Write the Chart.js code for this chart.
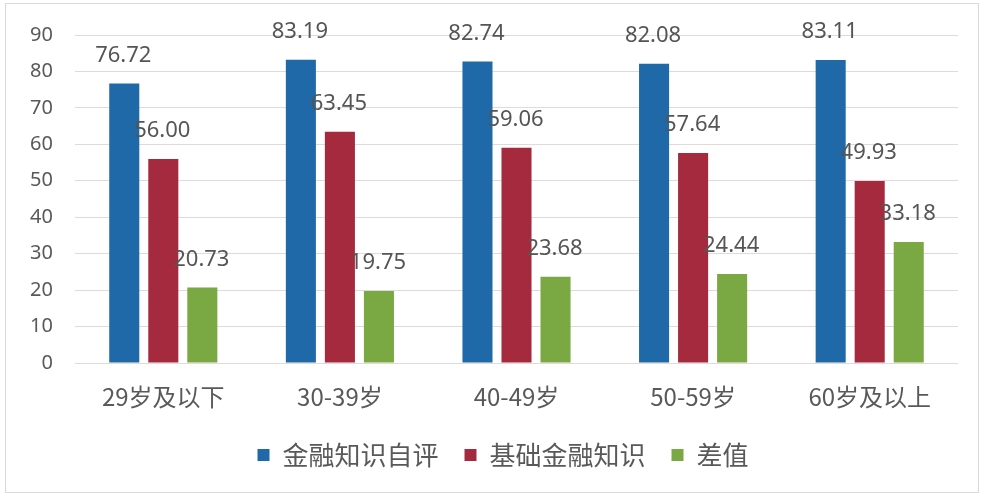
<!DOCTYPE html>
<html>
<head>
<meta charset="utf-8">
<script src="https://cdn.jsdelivr.net/npm/chart.js@4/dist/chart.umd.min.js"></script>
<style>
  html, body { margin: 0; padding: 0; background: #ffffff; }
  #wrap { position: relative; width: 981px; height: 497px; }
  #frame { position: absolute; left: 5px; top: 3px; width: 974px; height: 490px; border: 1px solid #d9d9d9; box-sizing: border-box; pointer-events: none; }
  canvas { display: block; }
</style>
</head>
<body>
<div id="wrap">
  <canvas id="c" width="981" height="497"></canvas>
  <div id="frame"></div>
</div>
<script>
const categories = ['29岁及以下', '30-39岁', '40-49岁', '50-59岁', '60岁及以上'];
const seriesNames = ['金融知识自评', '基础金融知识', '差值'];
const selfRated = [76.72, 83.19, 82.74, 82.08, 83.11];
const basicKnowledge = [56.00, 63.45, 59.06, 57.64, 49.93];
const difference = [20.73, 19.75, 23.68, 24.44, 33.18];
const yTicks = [0, 10, 20, 30, 40, 50, 60, 70, 80, 90];

const colors = ['#1f69a8', '#a62a3e', '#7aa843'];
const textColor = '#595959';
const cjkFont = "'Noto Sans CJK SC', 'Noto Sans', sans-serif";

const valueLabels = {
  id: 'valueLabels',
  afterLayout(chart) {
    if (chart.legend) { chart.legend.left += 24; chart.legend.right += 24; }
  },
  afterDatasetsDraw(chart) {
    const ctx = chart.ctx;
    ctx.save();
    ctx.font = "22px 'Noto Sans', 'Noto Sans CJK SC', sans-serif";
    ctx.fillStyle = '#555555';
    ctx.textAlign = 'center';
    ctx.textBaseline = 'middle';
    chart.data.datasets.forEach((ds, i) => {
      const meta = chart.getDatasetMeta(i);
      meta.data.forEach((bar, j) => {
        ctx.fillText(ds.data[j].toFixed(2), bar.x - 1, bar.y - 28);
      });
    });
    ctx.restore();
  }
};

new Chart(document.getElementById('c'), {
  type: 'bar',
  data: {
    labels: categories,
    datasets: [
      { label: seriesNames[0], data: selfRated, backgroundColor: colors[0] },
      { label: seriesNames[1], data: basicKnowledge, backgroundColor: colors[1] },
      { label: seriesNames[2], data: difference, backgroundColor: colors[2] }
    ]
  },
  options: {
    responsive: false,
    animation: false,
    devicePixelRatio: 1,
    layout: { padding: { top: 35, right: 23, left: 0, bottom: 19 } },
    datasets: { bar: { categoryPercentage: 0.663, barPercentage: 0.77 } },
    scales: {
      x: {
        grid: { display: false, drawTicks: false },
        border: { display: false },
        ticks: { color: textColor, font: { family: cjkFont, size: 24 }, padding: 19, maxRotation: 0 },
        afterFit(scale) { scale.height = 53; }
      },
      y: {
        min: 0, max: 90,
        afterBuildTicks(scale) { scale.ticks = yTicks.map(v => ({ value: v })); },
        grid: { color: '#e2dada', lineWidth: 1, drawTicks: false },
        border: { display: false },
        ticks: { color: textColor, font: { family: "'Noto Sans', sans-serif", size: 20 }, padding: 22 },
        afterFit(scale) { scale.width = 75; }
      }
    },
    plugins: {
      legend: {
        position: 'bottom',
        labels: {
          boxWidth: 12, boxHeight: 12, padding: 26,
          color: textColor,
          font: { family: cjkFont, size: 26 }
        }
      },
      tooltip: { enabled: false }
    }
  },
  plugins: [valueLabels]
});
</script>
</body>
</html>
